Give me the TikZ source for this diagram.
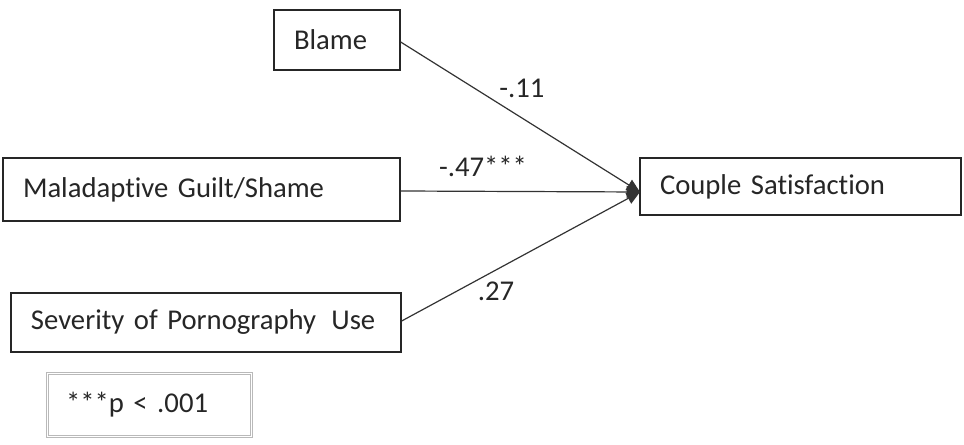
\documentclass[tikz,border=0pt]{standalone}
\usepackage{fontspec}
\setmainfont{Carlito}[Ligatures=NoCommon]
\usetikzlibrary{arrows.meta,calc}
\begin{document}
\begin{tikzpicture}[x=0.75pt,y=-0.75pt,
  every node/.style={font=\fontsize{21.5pt}{24pt}\selectfont, text=black!85},
  varbox/.style={draw=black!85, line width=1pt, fill=white, align=left,
    inner xsep=15pt, inner ysep=0pt, anchor=center},
  path/.style={draw=black!80, line width=0.9pt, -{Triangle[length=10pt,width=9pt]}},
  coef/.style={inner sep=0pt}]
\useasboundingbox (0,0) rectangle (964,445);

% predictor and outcome boxes (text width = box width - 40px padding)
\node[varbox, text width=86*0.75pt, minimum height=60*0.75pt] (blame) at (337,40) {Blame};
\node[varbox, text width=357*0.75pt, minimum height=63*0.75pt] (guilt) at (201.5,189.5) {Maladaptive Guilt/Shame};
\node[varbox, text width=350*0.75pt, minimum height=59*0.75pt] (porn) at (206,322.5) {Severity of Pornography\hspace{0.2em} Use};
\node[varbox, text width=281*0.75pt, minimum height=57*0.75pt] (sat) at (800.5,186.5) {Couple Satisfaction};

% significance legend with a thin double frame
\node[draw=gray!55, line width=0.6pt,
  text width=166*0.75pt, minimum height=65*0.75pt, inner xsep=15pt, inner ysep=0pt, align=left] (legend) at (149,405) {***p < .001};
\draw[gray!55, line width=0.6pt] ($(legend.south west)+(2.5,-2.5)$) rectangle ($(legend.north east)+(-2.5,2.5)$);

% paths into the outcome
\coordinate (tip) at (640,192);
\draw[path] (blame.east |- 0,42) -- (tip);
\draw[path] (guilt.east |- 0,191) -- (tip);
\draw[path] (porn.east |- 0,321) -- (tip);

% path coefficients
\node[coef] (c1) at (522,88) {-.11};
\node[coef] (c2) at (483,166) {-.47***};
\node[coef] (c3) at (496,291) {.27};
\end{tikzpicture}
\end{document}
